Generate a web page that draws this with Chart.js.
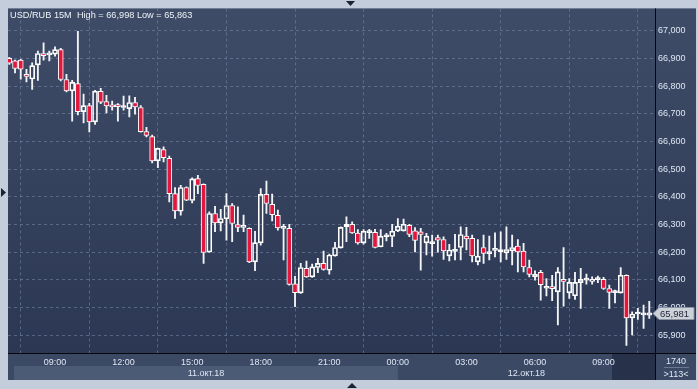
<!DOCTYPE html>
<html><head><meta charset="utf-8">
<script src="https://cdn.jsdelivr.net/npm/chart.js@4.4.0/dist/chart.umd.min.js"></script>
<style>html,body{margin:0;padding:0;background:#c3cddb;overflow:hidden}canvas{display:block}</style>
</head><body><canvas id="c" width="698" height="389"></canvas>
<script>
const symbol = 'USD/RUB 15M';
const tickIndex = [8, 20, 32, 44, 56, 68, 80, 92, 104];
const tickLabels = ['09:00','12:00','15:00','18:00','21:00','00:00','03:00','06:00','09:00'];
const dateLabels = ['11.окт.18','12.окт.18'];
const yTicks = [65.9, 66.0, 66.1, 66.2, 66.3, 66.4, 66.5, 66.6, 66.7, 66.8, 66.9, 67.0];
const barCount = '1740';
const visibleCount = '>113<';

const open = [
66.901,66.892,66.894,66.843,66.826,66.877,66.918,66.913,66.916,66.932,
66.824,66.783,66.809,66.708,66.730,66.671,66.781,66.744,66.728,66.727,
66.723,66.719,66.741,66.723,66.636,66.618,66.530,66.571,66.539,66.412,
66.348,66.434,66.387,66.466,66.445,66.201,66.340,66.306,66.321,66.369,
66.300,66.290,66.286,66.165,66.234,66.409,66.373,66.333,66.286,66.286,
66.086,66.053,66.142,66.111,66.145,66.160,66.135,66.187,66.216,66.292,
66.301,66.269,66.234,66.271,66.272,66.220,66.256,66.257,66.277,66.277,
66.297,66.277,66.274,66.234,66.231,66.253,66.246,66.187,66.203,66.217,
66.258,66.250,66.165,66.217,66.195,66.207,66.201,66.198,66.205,66.222,
66.204,66.145,66.111,66.127,66.070,66.076,66.057,66.102,66.053,66.043,
66.090,66.099,66.095,66.101,66.102,66.069,66.054,66.053,66.117,65.963,
65.977,65.974,65.973];
const high = [
66.904,66.894,66.897,66.861,66.884,66.927,66.957,66.927,66.942,66.937,
66.843,66.821,66.998,66.771,66.738,66.785,66.792,66.767,66.746,66.737,
66.764,66.765,66.760,66.730,66.651,66.623,66.576,66.581,66.547,66.434,
66.442,66.436,66.469,66.478,66.447,66.346,66.366,66.355,66.412,66.376,
66.364,66.334,66.288,66.276,66.430,66.457,66.410,66.352,66.301,66.301,
66.113,66.160,66.168,66.157,66.178,66.204,66.193,66.236,66.292,66.328,
66.310,66.282,66.282,66.283,66.283,66.282,66.268,66.301,66.322,66.320,
66.301,66.289,66.286,66.268,66.262,66.262,66.256,66.229,66.265,66.292,
66.290,66.262,66.246,66.262,66.258,66.270,66.274,66.292,66.262,66.246,
66.232,66.172,66.133,66.135,66.105,66.117,66.145,66.217,66.105,66.127,
66.142,66.121,66.111,66.114,66.109,66.081,66.063,66.145,66.118,65.985,
65.997,66.009,66.023];
const low = [
66.879,66.848,66.825,66.815,66.788,66.821,66.894,66.891,66.908,66.819,
66.779,66.674,66.696,66.667,66.635,66.662,66.737,66.703,66.713,66.674,
66.713,66.689,66.699,66.634,66.617,66.523,66.506,66.526,66.382,66.322,
66.334,66.386,66.378,66.412,66.160,66.199,66.274,66.277,66.244,66.238,
66.274,66.274,66.162,66.133,66.226,66.340,66.313,66.280,66.172,66.081,
66.003,66.051,66.109,66.109,66.126,66.135,66.121,66.186,66.215,66.238,
66.268,66.229,66.229,66.250,66.216,66.219,66.241,66.220,66.274,66.276,
66.256,66.201,66.135,66.190,66.186,66.200,66.174,66.169,66.172,66.172,
66.208,66.165,66.154,66.160,66.172,66.183,66.165,66.174,66.154,66.129,
66.129,66.111,66.099,66.027,66.042,66.025,65.937,66.005,66.033,66.030,
65.997,66.085,66.085,66.090,66.066,65.997,66.017,66.052,65.863,65.901,
65.957,65.925,65.961];
const close = [
66.883,66.864,66.861,66.835,66.874,66.918,66.910,66.918,66.932,66.824,
66.783,66.814,66.708,66.730,66.671,66.782,66.742,66.729,66.725,66.726,
66.726,66.741,66.725,66.636,66.622,66.530,66.575,66.542,66.412,66.349,
66.434,66.388,66.465,66.441,66.199,66.340,66.306,66.322,66.369,66.304,
66.290,66.294,66.165,66.235,66.409,66.376,66.336,66.288,66.290,66.084,
66.054,66.145,66.111,66.147,66.160,66.138,66.190,66.217,66.290,66.301,
66.270,66.234,66.276,66.274,66.217,66.258,66.258,66.276,66.294,66.301,
66.264,66.243,66.264,66.258,66.234,66.244,66.205,66.208,66.206,66.264,
66.248,66.187,66.186,66.196,66.198,66.210,66.210,66.210,66.217,66.201,
66.147,66.120,66.120,66.083,66.073,66.068,66.129,66.095,66.091,66.091,
66.102,66.102,66.102,66.104,66.069,66.055,66.057,66.117,65.963,65.977,
65.980,65.977,65.981];

const fmt = v => v.toFixed(3).replace('.', ',');
const FONT = '"Liberation Sans", Arial, sans-serif';
const TXT = '#dfe7f4';
const RED = '#e3173e';
const GRID = 'rgba(120,138,170,0.55)';

const wickUp = open.map((o, i) => ({x: i, y: [Math.max(o, close[i]), high[i]]}));
const wickDn = open.map((o, i) => ({x: i, y: [low[i], Math.min(o, close[i])]}));
const bodies = open.map((o, i) => ({x: i, y: [o, close[i]]}));

const decor = {
  id: 'decor',
  beforeDraw(chart) {
    const {ctx, chartArea: a} = chart;
    ctx.save();
    ctx.fillStyle = '#c3cddb';
    ctx.fillRect(0, 0, chart.width, chart.height);
    let g = ctx.createLinearGradient(0, a.top, 0, a.bottom);
    g.addColorStop(0, '#3f4c67');
    g.addColorStop(1, '#2c3853');
    ctx.fillStyle = g;
    ctx.fillRect(a.left, a.top, a.right - a.left, a.bottom - a.top);
    ctx.fillRect(a.right, a.top, 696 - a.right, a.bottom - a.top);
    // bottom axis band
    ctx.fillStyle = '#3b4964';
    ctx.fillRect(a.left, a.bottom, 696 - a.left, 380 - a.bottom);
    const xs = chart.scales.x;
    const b = xs.getPixelForValue(tickIndex[5]);
    ctx.fillStyle = '#4b5a75';
    ctx.fillRect(14, a.bottom + 13, b - 14, 380 - a.bottom - 13);
    ctx.fillStyle = '#27314a';
    ctx.fillRect(612, a.bottom + 1, a.right - 612, 380 - a.bottom - 1);
    // triangles
    ctx.fillStyle = '#1c2233';
    ctx.beginPath(); ctx.moveTo(346, 1); ctx.lineTo(355, 1); ctx.lineTo(350.5, 6); ctx.fill();
    ctx.beginPath(); ctx.moveTo(1, 188); ctx.lineTo(1, 197); ctx.lineTo(6, 192.5); ctx.fill();
    ctx.beginPath(); ctx.moveTo(347, 388); ctx.lineTo(357, 388); ctx.lineTo(352, 383); ctx.fill();
    ctx.restore();
  },
  afterDraw(chart) {
    const {ctx, chartArea: a} = chart;
    const xs = chart.scales.x, ys = chart.scales.y;
    ctx.save();
    // axis lines
    ctx.strokeStyle = '#05070c';
    ctx.lineWidth = 1;
    ctx.beginPath();
    ctx.moveTo(a.right + 0.5, a.top); ctx.lineTo(a.right + 0.5, 380);
    ctx.moveTo(a.left, a.bottom + 0.5); ctx.lineTo(696, a.bottom + 0.5);
    ctx.stroke();
    // title
    ctx.fillStyle = '#eef2f8';
    ctx.font = '9.2px ' + FONT;
    ctx.textBaseline = 'middle';
    ctx.textAlign = 'left';
    const hi = Math.max(...high), lo = Math.min(...low);
    ctx.fillText(symbol + '  High = ' + fmt(hi) + ' Low = ' + fmt(lo), 10, 15);
    // dates
    const b = xs.getPixelForValue(tickIndex[5]);
    ctx.fillStyle = TXT;
    ctx.textAlign = 'center';
    ctx.font = '9px ' + FONT;
    ctx.fillText(dateLabels[0], (14 + b) / 2, 373.5);
    ctx.fillText(dateLabels[1], (b + a.right) / 2, 373.5);
    // bottom right cell
    ctx.fillText(barCount, 676, 362);
    ctx.fillText(visibleCount, 676, 374.5);
    ctx.strokeStyle = 'rgba(200,210,230,0.35)';
    ctx.beginPath(); ctx.moveTo(664, 367.5); ctx.lineTo(689, 367.5); ctx.stroke();
    // last price label
    const last = close[close.length - 1];
    const py = Math.round(ys.getPixelForValue(last));
    ctx.fillStyle = '#cdd1d8';
    ctx.strokeStyle = '#8a93a3';
    ctx.beginPath();
    ctx.moveTo(653, py + 0.5);
    ctx.lineTo(659, py - 5.5);
    ctx.lineTo(694, py - 5.5);
    ctx.lineTo(694, py + 6.5);
    ctx.lineTo(659, py + 6.5);
    ctx.closePath();
    ctx.fill(); ctx.stroke();
    ctx.fillStyle = '#1d2538';
    ctx.textAlign = 'left';
    ctx.font = '9.5px ' + FONT;
    ctx.fillText(fmt(last), 660, py + 1);
    ctx.restore();
  }
};

new Chart(document.getElementById('c'), {
  type: 'bar',
  data: {
    datasets: [
      {data: wickUp, backgroundColor: '#f2f4f8', borderWidth: 0, barThickness: 1.2, grouped: false, order: 2},
      {data: wickDn, backgroundColor: '#f2f4f8', borderWidth: 0, barThickness: 1.2, grouped: false, order: 2},
      {data: bodies, grouped: false, order: 1, barThickness: 5, borderWidth: 1, borderSkipped: false,
       minBarLength: 2, borderColor: '#ffffff',
       backgroundColor: c => (close[c.dataIndex] < open[c.dataIndex] ? RED : 'rgba(0,0,0,0)')}
    ]
  },
  options: {
    responsive: false,
    animation: false,
    events: [],
    layout: {padding: {left: 8, top: 8, right: 2, bottom: 9}},
    plugins: {legend: {display: false}, tooltip: {enabled: false}, title: {display: false}},
    scales: {
      x: {
        type: 'linear', min: -0.23, max: 113.0, offset: false,
        afterBuildTicks: ax => { ax.ticks = tickIndex.map(v => ({value: v})); },
        afterFit: ax => { ax.height = 27; },
        grid: {color: GRID, drawTicks: false, lineWidth: 1},
        border: {display: false, dash: [3, 3]},
        ticks: {color: TXT, font: {size: 9, family: FONT}, padding: 4, maxRotation: 0, autoSkip: false,
          callback: v => { const k = tickIndex.indexOf(v); return k >= 0 ? tickLabels[k] : ''; }}
      },
      y: {
        position: 'right', min: 65.836, max: 67.081,
        afterBuildTicks: ax => { ax.ticks = yTicks.map(v => ({value: v})); },
        afterFit: ax => { ax.width = 41; },
        grid: {color: GRID, drawTicks: false, lineWidth: 1},
        border: {display: false, dash: [3, 3]},
        ticks: {color: TXT, font: {size: 9, family: FONT}, padding: 3, callback: v => fmt(v)}
      }
    }
  },
  plugins: [decor]
});
</script>
</body></html>
